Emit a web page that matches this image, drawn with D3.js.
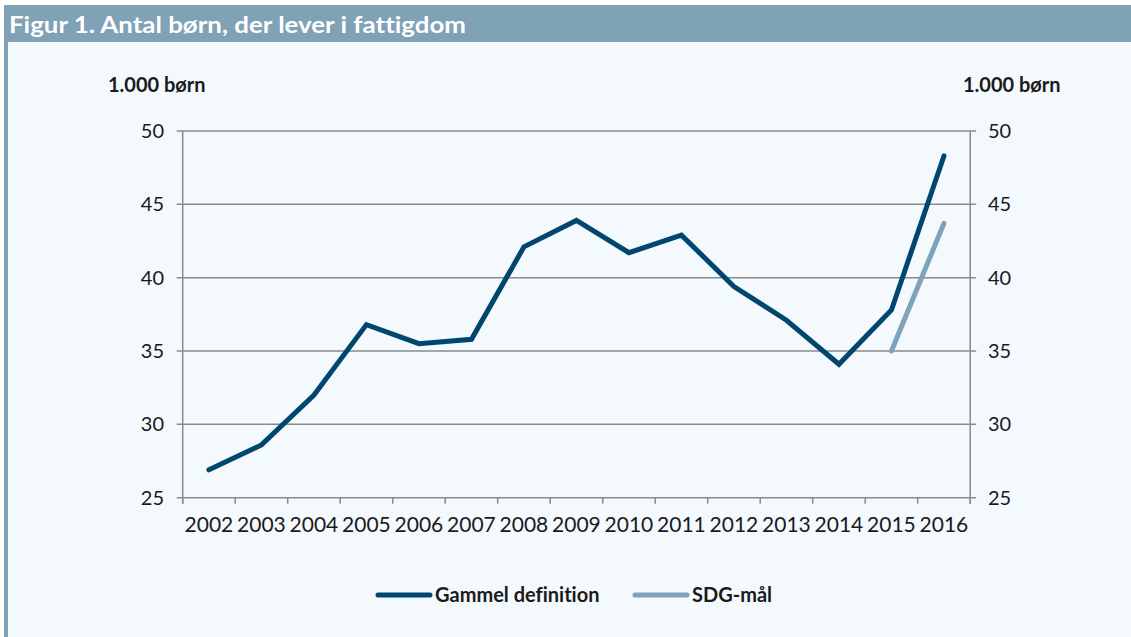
<!DOCTYPE html>
<html>
<head>
<meta charset="utf-8">
<script src="https://cdn.jsdelivr.net/npm/d3@7"></script>
<style>
  body { margin: 0; background: #fff; }
  svg { display: block; font-family: Lato, 'Open Sans', sans-serif; font-variant-ligatures: none; font-feature-settings: "liga" 0; }
</style>
</head>
<body>
<main></main>
<script>
const years = ['2002', '2003', '2004', '2005', '2006', '2007', '2008', '2009', '2010', '2011', '2012', '2013', '2014', '2015', '2016'];
const gammel = [26.9, 28.6, 32.0, 36.8, 35.5, 35.8, 42.1, 43.9, 41.7, 42.9, 39.4, 37.1, 34.1, 37.8, 48.3];
const sdgYears = ['2015', '2016'];
const sdg = [35.0, 43.7];
const yTicks = [25, 30, 35, 40, 45, 50];

const W = 1131, H = 637;
const dark = '#00466e';
const light = '#7fa3b8';
const grid = '#8a8a8a';

const svg = d3.select('main').append('svg').attr('width', W).attr('height', H);

// panel
svg.append('rect').attr('x', 4).attr('y', 5).attr('width', W - 4).attr('height', H - 5).attr('fill', '#f4f9fd');
svg.append('rect').attr('x', 4).attr('y', 5).attr('width', W - 4).attr('height', 37).attr('fill', '#7fa2b7');
svg.append('rect').attr('x', 4).attr('y', 42).attr('width', 4).attr('height', H - 42).attr('fill', '#7fa2b7');

svg.append('text')
  .attr('x', 9).attr('y', 33)
  .attr('fill', '#fff')
  .attr('font-size', 23).attr('font-weight', 'bold')
  .attr('textLength', 457).attr('lengthAdjust', 'spacingAndGlyphs')
  .text('Figur 1. Antal børn, der lever i fattigdom');

const plotLeft = 182.7, plotRight = 970.2, plotTop = 131, plotBottom = 497.7;

const x = d3.scaleBand().domain(years).range([plotLeft, plotRight]).padding(0);
const y = d3.scaleLinear().domain([25, 50]).range([plotBottom, plotTop]);
const cx = d => x(d) + x.bandwidth() / 2;

// grid
svg.append('g')
  .selectAll('line')
  .data(yTicks)
  .enter()
  .append('line')
  .attr('x1', plotLeft - 6).attr('x2', plotRight + 6)
  .attr('y1', d => y(d)).attr('y2', d => y(d))
  .attr('stroke', grid).attr('stroke-width', 1.5);

// vertical axes
[plotLeft, plotRight].forEach(xx => {
  svg.append('line')
    .attr('x1', xx).attr('x2', xx).attr('y1', plotTop).attr('y2', plotBottom + 6)
    .attr('stroke', grid).attr('stroke-width', 1.5);
});

// x ticks at band edges
svg.append('g')
  .selectAll('line')
  .data(years.map(d => x(d)).concat([plotRight]))
  .enter()
  .append('line')
  .attr('x1', d => d).attr('x2', d => d)
  .attr('y1', plotBottom).attr('y2', plotBottom + 6)
  .attr('stroke', grid).attr('stroke-width', 1.5);

// y labels
svg.append('g')
  .selectAll('text')
  .data(yTicks)
  .enter()
  .append('text')
  .attr('x', 164).attr('y', d => y(d) + 7)
  .attr('text-anchor', 'end')
  .attr('font-size', 20).attr('fill', '#1a1a1a')
  .text(d => d);

svg.append('g')
  .selectAll('text')
  .data(yTicks)
  .enter()
  .append('text')
  .attr('x', 988).attr('y', d => y(d) + 7)
  .attr('font-size', 20).attr('fill', '#1a1a1a')
  .text(d => d);

// x labels
svg.append('g')
  .selectAll('text')
  .data(years)
  .enter()
  .append('text')
  .attr('x', d => cx(d)).attr('y', 532)
  .attr('text-anchor', 'middle')
  .attr('font-size', 21).attr('fill', '#1a1a1a')
  .text(d => d);

// unit labels
svg.append('text').attr('x', 108).attr('y', 92)
  .attr('font-size', 20).attr('font-weight', 'bold').attr('fill', '#1a1a1a')
  .text('1.000 børn');
svg.append('text').attr('x', 963).attr('y', 92)
  .attr('font-size', 20).attr('font-weight', 'bold').attr('fill', '#1a1a1a')
  .text('1.000 børn');

// lines
const line = d3.line().x(d => cx(d.year)).y(d => y(d.value));

svg.append('path')
  .datum(years.map((yr, i) => ({ year: yr, value: gammel[i] })))
  .attr('d', line)
  .attr('fill', 'none').attr('stroke', dark).attr('stroke-width', 5)
  .attr('stroke-linejoin', 'miter').attr('stroke-linecap', 'round');

svg.append('path')
  .datum(sdgYears.map((yr, i) => ({ year: yr, value: sdg[i] })))
  .attr('d', line)
  .attr('fill', 'none').attr('stroke', light).attr('stroke-width', 5)
  .attr('stroke-linecap', 'round');

// legend
const legend = [
  { name: 'Gammel definition', color: dark, x: 378 },
  { name: 'SDG-mål', color: light, x: 635 }
];
const lg = svg.append('g').selectAll('g').data(legend).enter().append('g');
lg.append('line')
  .attr('x1', d => d.x).attr('x2', d => d.x + 52)
  .attr('y1', 595).attr('y2', 595)
  .attr('stroke', d => d.color).attr('stroke-width', 5).attr('stroke-linecap', 'round');
lg.append('text')
  .attr('x', d => d.x + 57).attr('y', 602)
  .attr('font-size', 20).attr('font-weight', 'bold').attr('fill', '#1a1a1a')
  .text(d => d.name);
</script>
</body>
</html>
